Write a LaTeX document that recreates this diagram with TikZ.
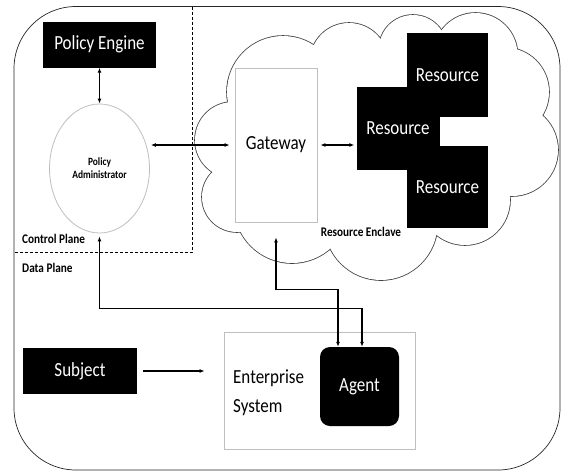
\documentclass[tikz,border=0pt]{standalone}
\usepackage{fontspec}
\setmainfont{Carlito}[FakeStretch=0.85]
\usetikzlibrary{shapes.geometric,arrows.meta}

\newcommand{\puffs}{283/92/56, 349/62/39, 413/49/34, 475.5/55/42, 504.5/92/44.5,
    512/150/46, 465/200/45, 381/223.5/56.5, 292/205/58, 237/197/35, 233/140/38}

\begin{document}
\begin{tikzpicture}[
    x=1pt, y=-1pt,
    >={Latex[length=5pt,width=4pt]},
    blk/.style ={
        rectangle,
        white,
        fill=black,
        inner sep=0pt,
        font=\fontsize{20}{22}\selectfont
    },
    gry/.style ={
        rectangle,
        draw=black!25,
        fill=white,
        line width=0.8pt,
        inner sep=0pt
    },
    lbl/.style ={
        inner sep=0pt,
        font=\bfseries\fontsize{13.2}{15}\selectfont
    },
    conn/.style ={
        line width=1.1pt
    }
    ]
    \useasboundingbox (0,0) rectangle (563,472);

    \draw[line width=0.7pt, black!85, rounded corners=62pt] (14,6.5) rectangle (560,470);
    \draw[line width=0.7pt, dash pattern=on 3pt off 2pt] (192,6.5) -- (192,252) -- (14,252);

    % cloud
    \foreach \cx/\cy/\r [count=\i] in \puffs {
        \coordinate (puff\i) at (\cx,\cy);
        \fill[black!75] (puff\i) circle[radius=\r pt+0.8pt];
    }
    \fill[white] (puff1) \foreach \i in {2,...,11}{ -- (puff\i)} -- cycle;
    \foreach \cx/\cy/\r [count=\i] in \puffs
        \fill[white] (puff\i) circle[radius=\r pt];

    \node[blk, minimum width=113pt, minimum height=46pt] (engine) at (99.5,44.5) {Policy Engine};
    \node[gry, ellipse, minimum width=100pt, minimum height=129pt, align=center,
        font=\bfseries\fontsize{11.1}{13}\selectfont] (admin) at (99.5,168.5) {Policy\\Administrator};
    \node[gry, minimum width=82pt, minimum height=154pt,
        font=\fontsize{20}{22}\selectfont] (gateway) at (276,145) {Gateway};

    \node[blk, minimum width=81pt, minimum height=84pt] (res1) at (447.5,75) {Resource};
    \node[blk, minimum width=83pt, minimum height=83pt] (res2) at (398,128.5) {Resource};
    \node[blk, minimum width=81pt, minimum height=82pt] (res3) at (447.5,187) {Resource};

    \node[lbl, anchor=west] (ctrl) at (22,239) {Control Plane};
    \node[lbl, anchor=west] (data) at (22,268) {Data Plane};
    \node[lbl] (enclave) at (361,232) {Resource Enclave};

    \node[gry, minimum width=191pt, minimum height=117pt] (enterprise) at (319.5,390.5) {};
    \node[anchor=west, align=left, inner sep=0pt,
        font=\fontsize{20}{29}\selectfont] (system) at (233,392.5) {Enterprise\\System};
    \node[blk, rounded corners=10pt, minimum width=79pt, minimum height=79pt] (agent) at (359.5,386.5) {Agent};
    \node[blk, minimum width=114pt, minimum height=46pt] (subject) at (80,371) {Subject};

    \draw[<->, conn] (engine) -- (admin);
    \draw[<->, conn, shorten <=1pt, shorten >=5pt] (admin.east |- gateway.west) -- (gateway.west);
    \draw[<->, conn, shorten <=3pt, shorten >=2pt] (gateway.east) -- (gateway.east -| res2.west);
    \draw[<->, conn, shorten <=15pt] (gateway.south) -- ++(0,67) -| ([xshift=-21.5pt]agent.north);
    \draw[<->, conn, shorten <=3pt] (admin.south) -- ++(0,75) -| ([xshift=2.5pt]agent.north);
    \draw[->, conn, shorten <=6pt, shorten >=19pt] (subject.east) -- (subject.east -| enterprise.west);
\end{tikzpicture}
\end{document}
